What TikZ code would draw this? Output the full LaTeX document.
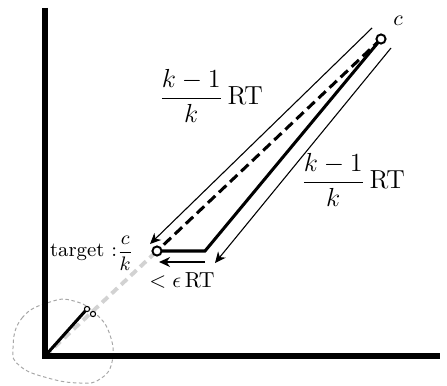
\documentclass[tikz,border=0pt]{standalone}
\usepackage{amsmath,amssymb}
\usetikzlibrary{calc,arrows.meta}
\begin{document}
\begin{tikzpicture}[x=0.46pt,y=-0.46pt,
  axis/.style={line width=2.4pt},
  path/.style={line width=1.4pt},
  gap/.style={line width=0.5pt,-{Stealth[length=5pt,width=4.5pt,inset=1.5pt]}},
  dot/.style={circle,draw,line width=0.9pt,fill=white,inner sep=0pt,minimum size=4.2pt}]
\useasboundingbox (0,0) rectangle (447,385);
\coordinate (O) at (45,356);\coordinate (C) at (381,39);\coordinate (T) at (157,251);\coordinate (K) at (205,251);
\coordinate (P) at (87,309);\coordinate (Q) at (93,314);
% searched region
\draw[gray!70,dash pattern=on 1.6pt off 1.2pt,line width=0.45pt] plot[smooth cycle,tension=0.8] coordinates {(13,348) (22,318) (50,302) (74,301) (96,314) (110,335) (112,362) (100,379) (80,383) (48,378) (20,366)};
\draw[gray!35,line width=1.8pt,dash pattern=on 3.7pt off 2.3pt] (O)--(T);
\draw[path] (O)--(P);
\draw[axis] (45,8)--(O)--(440,356);
\draw[path,dash pattern=on 4.6pt off 2.4pt] (C)--(T);
\draw[path] (C)--(K)--(T);
\node[dot,minimum size=2.4pt,line width=0.5pt] (p) at (P) {};\node[dot,minimum size=2.4pt,line width=0.5pt] (q) at (Q) {};
\node[dot] (c) at (C) {};\node[dot] (t) at (T) {};
% cost arrows
\coordinate (a1) at (372,28);\coordinate (a2) at (150,244);
\coordinate (b1) at (391,48);\coordinate (b2) at (215,263);
\coordinate (e1) at (205,262);\coordinate (e2) at (159,262);
\draw[gap] (a1)--(a2);\draw[gap] (b1)--(b2);\draw[gap,line width=0.9pt] (e1)--(e2);
\node at (398,21) {$c$};
\node[font=\large] at (211,96) {$\dfrac{k-1}{k}\,\mathrm{RT}$};
\node[font=\large] at (353,180) {$\dfrac{k-1}{k}\,\mathrm{RT}$};
\node[left,inner sep=1pt,font=\fontsize{9.3}{11}\selectfont] at (136,253) {target :$\dfrac{c}{k}$};
\node at (182,280) {$<\epsilon\,\mathrm{RT}$};
\end{tikzpicture}
\end{document}
